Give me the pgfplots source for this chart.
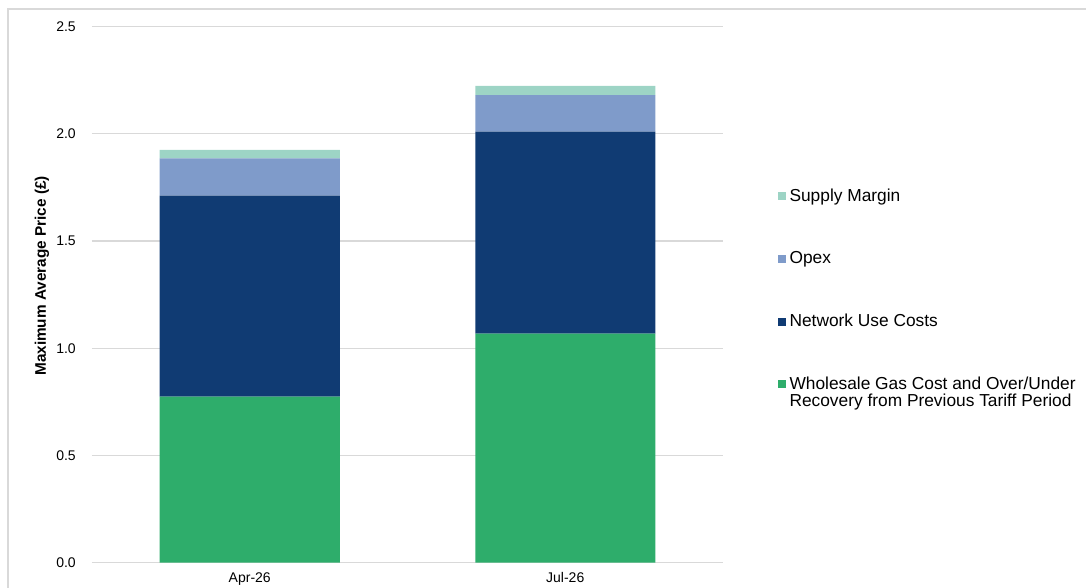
\documentclass[border=0pt]{standalone}
\usepackage{fontspec}
\setmainfont{Liberation Sans}
\usepackage{pgfplots}
\pgfplotsset{compat=1.18}
\definecolor{cgreen}{RGB}{46,173,107}
\definecolor{cnavy}{RGB}{16,59,115}
\definecolor{copex}{RGB}{127,155,202}
\definecolor{cmargin}{RGB}{157,212,197}
\definecolor{cgrid}{RGB}{217,217,217}
\begin{document}
\begin{tikzpicture}
\useasboundingbox (0,0) rectangle (814.5pt,-441pt);
\draw[cgrid, line width=1.1pt] (6pt,-6.75pt) rectangle (830pt,-470pt);
\begin{axis}[
  at={(69pt,-422pt)}, anchor=south west,
  scale only axis, width=473.25pt, height=402pt,
  ybar stacked, bar width=135pt,
  xmin=-0.5, xmax=1.5, ymin=0, ymax=2.5,
  xtick={0,1}, xticklabels={Apr-26,Jul-26},
  ytick={0,0.5,1,1.5,2,2.5},
  yticklabel style={/pgf/number format/fixed, /pgf/number format/precision=1, /pgf/number format/fixed zerofill, inner sep=0pt, xshift=-12pt},
  /pgf/number format/assume math mode=true,
  xticklabel style={inner sep=0pt, yshift=-7pt},
  ticklabel style={font=\fontsize{10.5}{12}\selectfont},
  tick style={draw=none},
  axis line style={draw=none},
  ymajorgrids, grid style={cgrid, line width=0.9pt},
  ylabel={Maximum Average Price (£)},
  ylabel style={font=\bfseries\fontsize{11.5}{13}\selectfont, at={(axis description cs:0,0.535)}, anchor=center, yshift=37.5pt},
  reverse legend,
  legend style={draw=none, fill=none, inner sep=0pt, at={(axis description cs:1.086,0.70)}, anchor=north west,
    font=\fontsize{13}{12.75}\selectfont, row sep=34pt, column sep=3pt,
    nodes={inner sep=0pt, text height=10pt, text depth=3pt}},
  legend cell align=left,
  legend image code/.code={\fill[#1] (0pt,-3pt) rectangle (6pt,3pt);},
]
\addplot[fill=cgreen, draw=none] coordinates {(0,0.775) (1,1.068)};
\addlegendentry{\begin{tabular}[t]{@{}l@{}}Wholesale Gas Cost and Over/Under\\Recovery from Previous Tariff Period\end{tabular}}
\addplot[fill=cnavy, draw=none] coordinates {(0,0.937) (1,0.942)};
\addlegendentry{Network Use Costs}
\addplot[fill=copex, draw=none] coordinates {(0,0.174) (1,0.171)};
\addlegendentry{Opex}
\addplot[fill=cmargin, draw=none] coordinates {(0,0.039) (1,0.043)};
\addlegendentry{Supply Margin}
\end{axis}
\end{tikzpicture}
\end{document}
